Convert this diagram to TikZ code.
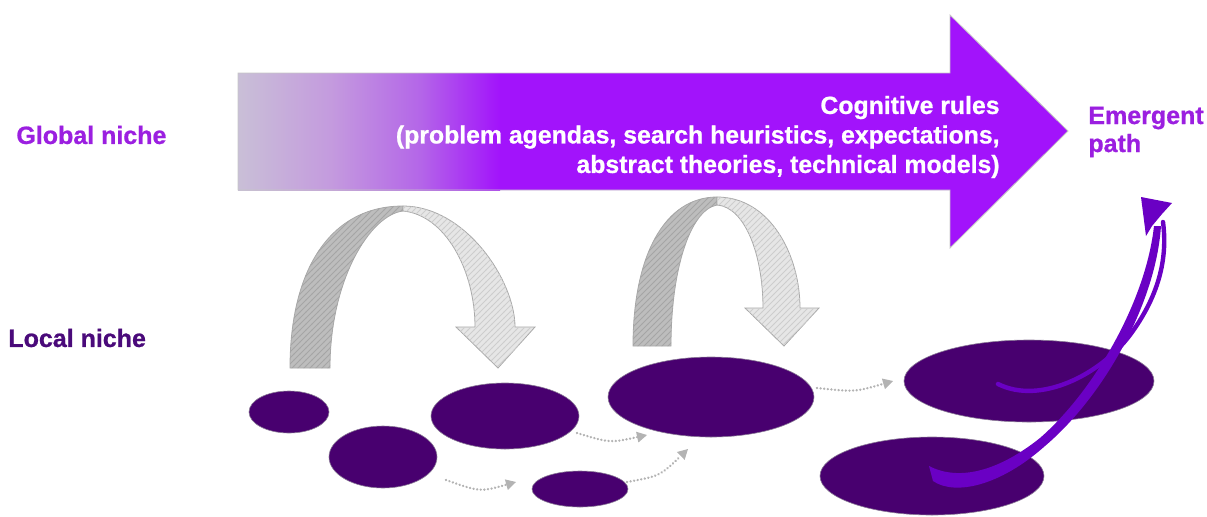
\documentclass[tikz,border=0pt]{standalone}
\usepackage{fontspec}
\setmainfont{Liberation Sans}[BoldFeatures={FakeBold=0.8}]
\usetikzlibrary{shapes.geometric,arrows.meta,patterns}
\definecolor{vio}{HTML}{A213FB}
\definecolor{gA}{HTML}{C9BFD7}
\definecolor{gB}{HTML}{C49BDE}
\definecolor{gC}{HTML}{B466E8}
\definecolor{lbl}{HTML}{9B1FE0}
\definecolor{lbldark}{HTML}{4A0A7A}
\definecolor{blob}{HTML}{48006F}
\definecolor{blobedge}{HTML}{8A7A96}
\definecolor{dotgray}{HTML}{B3B3B3}
\definecolor{archdark}{HTML}{BDBDBD}
\definecolor{archdarkln}{HTML}{A5A5A5}
\definecolor{archlight}{HTML}{E6E6E6}
\definecolor{archlightln}{HTML}{CDCDCD}
\definecolor{archedge}{HTML}{A8A8A8}
\definecolor{emerg}{HTML}{6A00C4}
\pgfdeclarehorizontalshading{arrowfade}{100bp}{color(0bp)=(gA); color(25bp)=(gA); color(42.6bp)=(gB); color(59.7bp)=(gC); color(75bp)=(vio); color(100bp)=(vio)}
\tikzset{
  blobnode/.style={ellipse, fill=blob, draw=blobedge, line width=0.3pt, inner sep=0pt, outer sep=0pt},
  dotarrow/.style={draw=dotgray, line width=1.3pt, line cap=round, dash pattern=on 0.01pt off 1.8pt, -{Triangle[length=5pt,width=5.5pt,fill=dotgray,line width=0pt]}},
  archdarkpart/.style={fill=archdark, draw=archedge, line width=0.4pt, postaction={pattern=north east lines, pattern color=archdarkln}},
  archlightpart/.style={fill=archlight, draw=archedge, line width=0.4pt, postaction={pattern=north east lines, pattern color=archlightln}},
  sidelabel/.style={font=\bfseries\fontsize{12.5pt}{14pt}\selectfont, inner sep=0pt},
}
\begin{document}
\begin{tikzpicture}[x=0.5pt, y=-0.5pt]
\useasboundingbox (0,0) rectangle (1207,516);

% big arrow
\fill[vio] (238,73) -- (950,73) -- (950,15) -- (1068,131) -- (950,248) -- (950,190) -- (238,190) -- cycle;
\shade[shading=arrowfade] (238,73) rectangle (500,190);
\draw[draw=gray!45, line width=0.4pt] (238,73) -- (950,73) -- (950,15) -- (1068,131) -- (950,248) -- (950,190) -- (238,190) -- cycle;

\node[font=\bfseries\fontsize{12.4pt}{14.75pt}\selectfont, text=white, align=right, anchor=east, inner sep=0pt] (rules) at (1000,137)
  {Cognitive rules\\(problem agendas, search heuristics, expectations,\\abstract theories, technical models)};

% labels
\node[sidelabel, text=lbl, anchor=west] (global) at (16,135) {Global niche};
\node[sidelabel, text=lbldark, anchor=west] (local) at (8,338) {Local niche};
\node[sidelabel, text=lbl, anchor=west, align=left] (emergent) at (1088,132) {Emergent\\path};

% curved gray arrows
\path[archdarkpart] (290,368) .. controls (290,270) and (330,206) .. (403,206) -- (403,211) .. controls (370,215) and (330,280) .. (330,368) -- cycle;
\path[archlightpart] (403,206) .. controls (465,206) and (515,280) .. (515,327) -- (535,327) -- (498,368) -- (456,327) -- (475,327) .. controls (475,270) and (445,215) .. (403,211) -- cycle;

\path[archdarkpart] (633,346) .. controls (633,255) and (665,197) .. (717,197) -- (717,205) .. controls (690,210) and (671,270) .. (671,346) -- cycle;
\path[archlightpart] (717,197) .. controls (770,197) and (800,255) .. (800,308) -- (819,308) -- (784,346) -- (745,308) -- (763,308) .. controls (763,255) and (745,207) .. (717,205) -- cycle;

% niches (ellipses)
\node[blobnode, minimum width=40pt, minimum height=21pt] (e1) at (289,412) {};
\node[blobnode, minimum width=54pt, minimum height=31pt] (e2) at (383,457) {};
\node[blobnode, minimum width=74pt, minimum height=33pt] (e3) at (505,416) {};
\node[blobnode, minimum width=103pt, minimum height=40pt] (e4) at (711,397) {};
\node[blobnode, minimum width=48pt, minimum height=18pt] (e5) at (580,489) {};
\node[blobnode, minimum width=125pt, minimum height=41pt] (e6) at (1029,381) {};
\node[blobnode, minimum width=112pt, minimum height=39pt] (e7) at (932,476) {};

% dotted arrows
\coordinate (a1) at (446,480); \coordinate (a2) at (516,482);
\coordinate (b1) at (577,433); \coordinate (b2) at (647,435);
\coordinate (c1) at (627,482); \coordinate (c2) at (688,449);
\coordinate (d1) at (817,388); \coordinate (d2) at (893,381);
\draw[dotarrow] (a1) .. controls (480,492) .. (a2);
\draw[dotarrow] (b1) .. controls (610,443) .. (b2);
\draw[dotarrow] (c1) .. controls (660,476) .. (c2);
\draw[dotarrow] (d1) .. controls (855,392) .. (d2);

% emergent path
\fill[emerg] (929,466) .. controls (960,482) and (1000,470) .. (1040,438) .. controls (1095,390) and (1146,300) .. (1154,226)
  -- (1161,226) .. controls (1156,302) and (1105,395) .. (1045,446) .. controls (1000,486) and (955,496) .. (933,481) -- cycle;
\draw[emerg, line width=2.2pt, line cap=round] (998,384) .. controls (1040,405) and (1100,375) .. (1130,335) .. controls (1158,297) and (1168,260) .. (1163,222);
\coordinate (tip) at (1141,197);
\fill[emerg] (tip) -- (1172,203) -- (1162,214) -- (1152,226) -- (1146,236) -- cycle;
\end{tikzpicture}
\end{document}
